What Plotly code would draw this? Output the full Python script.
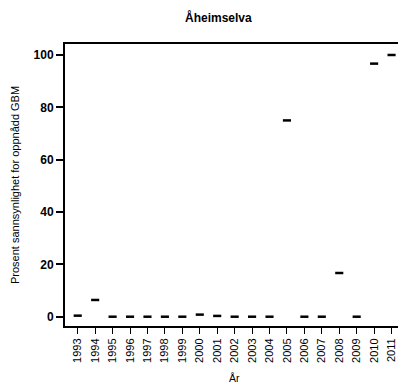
import plotly.graph_objects as go

years = list(range(1993, 2012))
values = [0.4, 6.4, 0, 0, 0, 0, 0, 0.8, 0.3, 0, 0, 0, 75.0, 0, 0, 16.7, 0, 96.7, 100]
y_ticks = [0, 20, 40, 60, 80, 100]

W, H = 398, 385
L, R, T, B = 65, 0, 44, 59

fig = go.Figure()
fig.add_trace(go.Scatter(
    x=years, y=values, mode="markers",
    marker=dict(symbol="line-ew", size=5.8, color="black",
                line=dict(color="black", width=2.5)),
    showlegend=False, hoverinfo="x+y", cliponaxis=False))

fig.update_layout(
    width=W, height=H,
    margin=dict(l=L, r=R, t=T, b=B),
    paper_bgcolor="white", plot_bgcolor="white",
    font=dict(family="Liberation Sans, Arial, sans-serif", color="black"),
    xaxis=dict(range=[1992.27, 2011.37], tickmode="array", tickvals=years,
               ticktext=[str(y) for y in years], tickangle=-90,
               ticks="outside", ticklen=6, tickwidth=1, tickcolor="black",
               showline=True, linecolor="black", linewidth=2, mirror=True,
               showgrid=False, zeroline=False,
               tickfont=dict(size=11)),
    yaxis=dict(range=[-3.55, 104.2], tickmode="array", tickvals=y_ticks,
               ticks="outside", ticklen=7, tickwidth=2, tickcolor="black",
               showline=True, linecolor="black", linewidth=2, mirror=False,
               showgrid=False, zeroline=False,
               tickfont=dict(size=12, family="Liberation Sans, Arial, sans-serif", weight="bold")),
)

pw = W - L - R
ph = H - T - B
def px(xp):
    return (xp - L) / pw
def py(yp):
    return (H - B - yp) / ph

fig.add_annotation(text="<b>Åheimselva</b>", x=px(218), y=py(18),
                   xref="paper", yref="paper", showarrow=False,
                   xanchor="center", yanchor="middle", font=dict(size=12))
fig.add_annotation(text="År", x=px(234), y=py(378), xref="paper", yref="paper",
                   showarrow=False, xanchor="center", yanchor="middle",
                   font=dict(size=10.5))
fig.add_annotation(text="Prosent sannsynlighet for oppnådd GBM", x=px(15), y=py(185),
                   xref="paper", yref="paper", showarrow=False, textangle=-90,
                   xanchor="center", yanchor="middle", font=dict(size=11))

fig.write_html("out.html", config={"displayModeBar": False})
with open("out.html", encoding="utf-8") as f:
    html = f.read()
html = html.replace("<head>", "<head><style>html,body{margin:0;padding:0;overflow:hidden;}</style>", 1)
with open("out.html", "w", encoding="utf-8") as f:
    f.write(html)
